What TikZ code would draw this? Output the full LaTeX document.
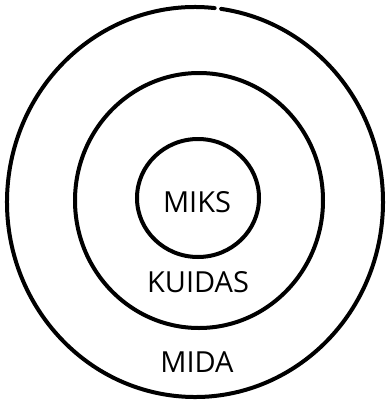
\documentclass[tikz,border=0pt]{standalone}
\usepackage{fontspec}
\setmainfont{Open Sans}
\tikzset{
  ring/.style={line width=4pt, draw=black, line cap=round},
  lbl/.style={font=\fontsize{29}{30}\selectfont, text=black, inner sep=0pt}
}
\begin{document}
\begin{tikzpicture}[x=1pt, y=-1pt]
\useasboundingbox (0,0) rectangle (387,400);
% outer ring with small gap at the top
\draw[ring] (195,202) ++(84:188pt and 195pt) arc[start angle=84, end angle=442, x radius=188pt, y radius=195pt];
% middle ring
\draw[ring] (199,200.5) ellipse[x radius=124pt, y radius=127.5pt];
% inner ring
\draw[ring] (198,198) ellipse[x radius=61pt, y radius=59pt];
\node[lbl] (miks) at (197,202) {MIKS};
\node[lbl] (kuidas) at (198,282) {KUIDAS};
\node[lbl] (mida) at (197,362) {MIDA};
\end{tikzpicture}
\end{document}
